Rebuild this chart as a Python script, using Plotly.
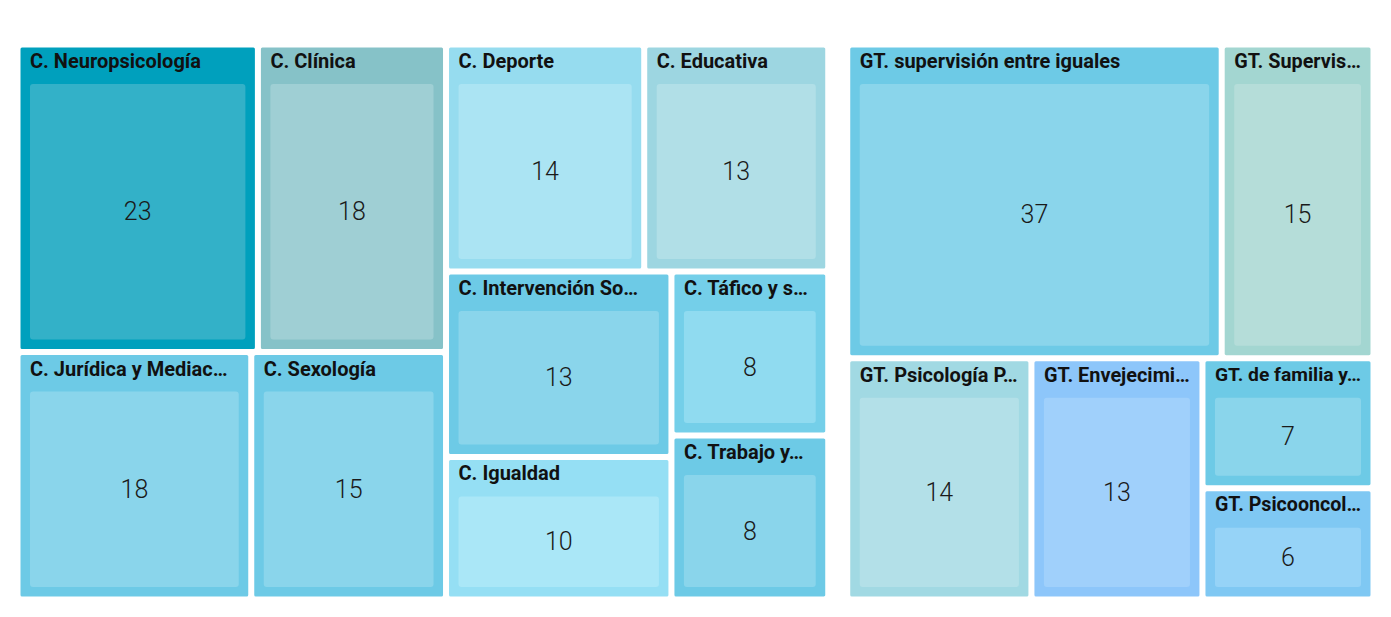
import plotly.graph_objects as go

# Comisiones
com_labels = ["C. Neuropsicología", "C. Clínica", "C. Jurídica y Mediac…", "C. Sexología",
              "C. Deporte", "C. Educativa", "C. Intervención So…", "C. Igualdad",
              "C. Táfico y s…", "C. Trabajo y…"]
com_values = [23, 18, 18, 15, 14, 13, 13, 10, 8, 8]
com_outer = ["#00a0bd", "#86c2c8", "#6dcae6", "#6dcae6", "#96dcef", "#9dd6e1",
             "#6dcae6", "#95dff4", "#74cfe9", "#6dcae6"]
com_inner = ["#33b1c8", "#9fcfd4", "#8ad5eb", "#8ad5eb", "#abe4f3", "#b1dfe7",
             "#8ad5eb", "#aae7f7", "#90dbf0", "#8ad5eb"]

# Grupos de trabajo
gt_labels = ["GT. supervisión entre iguales", "GT. Supervis…", "GT. Psicología P…",
             "GT. Envejecimi…", "GT. de familia y…", "GT. Psicooncol…"]
gt_values = [37, 15, 14, 13, 7, 6]
gt_outer = ["#6dcae6", "#a3d6d1", "#a1d9e3", "#8dc6fa", "#6dcae6", "#7fc8f3"]
gt_inner = ["#8ad5eb", "#b5ddd9", "#b3e0e8", "#a0d0fb", "#8ad5eb", "#96d3f7"]

PAD = dict(t=38, l=11, r=11, b=11)


def tiles(labels, values, outer, inner, domain, show):
    """One treemap trace: show='head' draws the tiles and headers, show='value' only the numbers."""
    n = len(labels)
    ids = labels + [l + "#v" for l in labels]
    parents = [""] * n + labels
    vals = values + values
    if show == "head":
        colors = outer + inner
        widths = [3] * n + [0] * n
        shown = labels + [""] * n
        font = dict(family="Roboto", size=20, color="#111111", weight="bold")
        pos = "top left"
    else:
        colors = ["rgba(0,0,0,0)"] * (2 * n)
        widths = [0] * (2 * n)
        shown = [""] * n + [str(v) for v in values]
        font = dict(family="Roboto", size=25, color="#1a1a1a", weight=300)
        pos = "middle center"
    return go.Treemap(
        ids=ids, labels=shown, parents=parents, values=vals,
        branchvalues="total", sort=True,
        textinfo="label", textposition=pos, textfont=font,
        tiling=dict(packing="binary"),
        marker=dict(colors=colors, line=dict(color="white", width=widths),
                    pad=PAD, cornerradius=3),
        pathbar=dict(visible=False),
        domain=domain, hoverinfo="skip" if show == "value" else "label+value",
    )


total = sum(com_values) + sum(gt_values)
split = sum(com_values) / total
dom_c = dict(x=[0, split], y=[0, 1])
dom_g = dict(x=[split, 1], y=[0, 1])

fig = go.Figure([
    tiles(com_labels, com_values, com_outer, com_inner, dom_c, "head"),
    tiles(gt_labels, gt_values, gt_outer, gt_inner, dom_g, "head"),
    tiles(com_labels, com_values, com_outer, com_inner, dom_c, "value"),
    tiles(gt_labels, gt_values, gt_outer, gt_inner, dom_g, "value"),
])
fig.update_layout(
    margin=dict(l=0, r=0, t=0, b=0),
    paper_bgcolor="white",
    font=dict(family="Roboto"),
)
fig.write_html("out.html")
